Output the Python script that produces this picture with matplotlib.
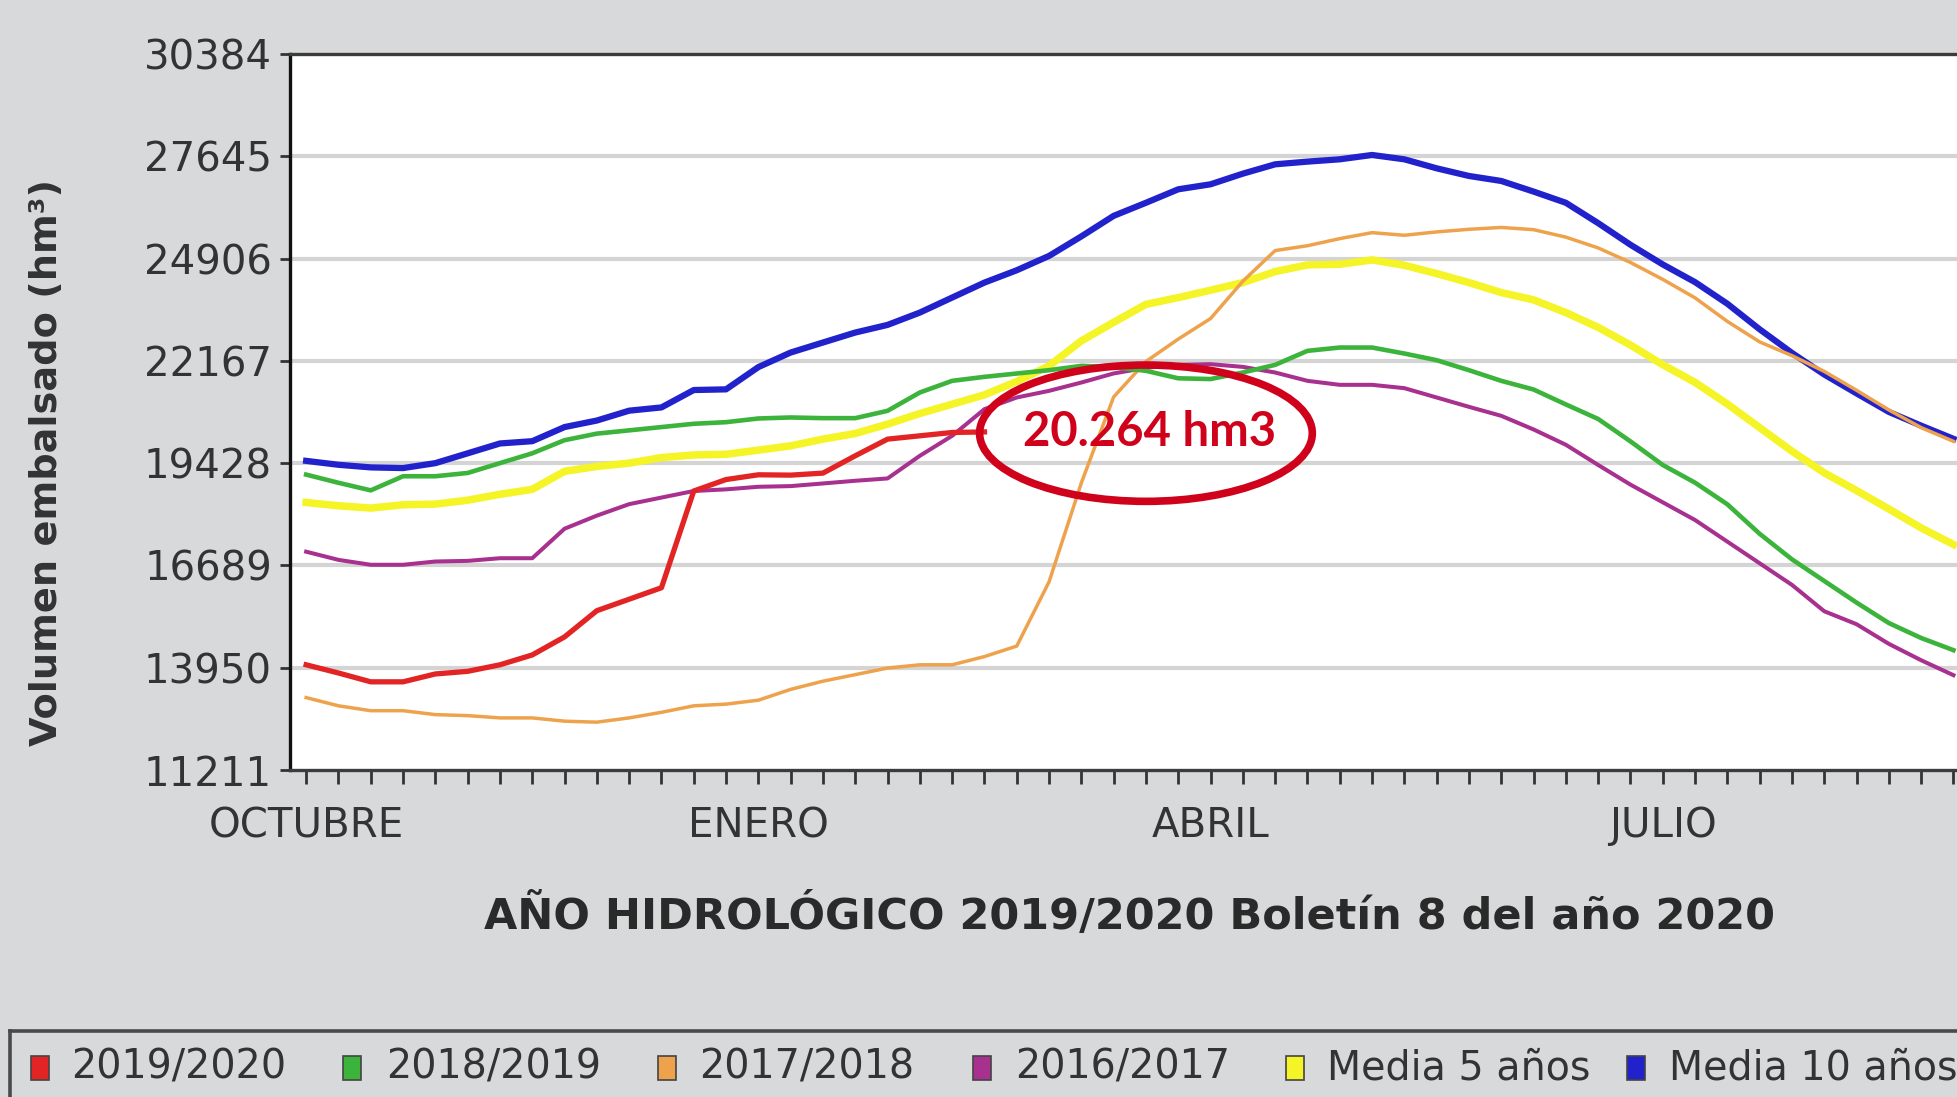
import matplotlib
matplotlib.use("Agg")
import matplotlib.pyplot as plt
from matplotlib.patches import Ellipse, Rectangle
from matplotlib.lines import Line2D

# ---------------- data ----------------
weeks = list(range(52))
y_ticks = [11211, 13950, 16689, 19428, 22167, 24906, 27645, 30384]
month_labels = ["OCTUBRE", "ENERO", "ABRIL", "JULIO"]
month_weeks = [0, 14, 28, 42]

s_2019_2020 = [14028, 13809, 13572, 13572, 13783, 13853, 14028, 14292, 14775, 15477, 15784, 16092,
               18682, 18989, 19116, 19107, 19161, 19625, 20071, 20160, 20249, 20264]
s_2018_2019 = [19121, 18902, 18699, 19077, 19077, 19165, 19428, 19691, 20043, 20218, 20306, 20394,
               20482, 20525, 20624, 20651, 20633, 20633, 20829, 21320, 21632, 21739, 21828, 21917,
               22033, 22000, 21900, 21700, 21680, 21855, 22060, 22435, 22524, 22524, 22363, 22185,
               21917, 21632, 21400, 21000, 20611, 20011, 19379, 18905, 18326, 17536, 16852, 16273,
               15694, 15146, 14746, 14420]
s_2017_2018 = [13150, 12930, 12799, 12799, 12694, 12667, 12606, 12606, 12518, 12492, 12606, 12755,
               12930, 12975, 13080, 13370, 13589, 13765, 13941, 14028, 14028, 14248, 14530, 16250,
               18900, 21200, 22150, 22750, 23300, 24300, 25120, 25250, 25440, 25600, 25530, 25620,
               25690, 25740, 25680, 25480, 25191, 24802, 24349, 23854, 23223, 22675, 22306, 21885,
               21380, 20853, 20379, 20011]
s_2016_2017 = [17057, 16838, 16706, 16706, 16794, 16811, 16882, 16882, 17672, 18023, 18330, 18506,
               18682, 18726, 18795, 18813, 18884, 18956, 19018, 19625, 20160, 20874, 21186, 21364,
               21587, 21830, 21980, 22060, 22078, 22006, 21855, 21632, 21525, 21525, 21436, 21186,
               20936, 20695, 20330, 19920, 19379, 18853, 18379, 17905, 17326, 16747, 16168, 15462,
               15115, 14589, 14150, 13750]
media_5 = [18374, 18287, 18225, 18313, 18331, 18436, 18594, 18726, 19209, 19340, 19428, 19577,
           19647, 19665, 19776, 19892, 20071, 20222, 20472, 20758, 21007, 21257, 21614, 22033,
           22702, 23200, 23680, 23862, 24058, 24263, 24558, 24736, 24754, 24870, 24727, 24504,
           24263, 23996, 23800, 23460, 23064, 22591, 22064, 21590, 21011, 20379, 19748, 19168,
           18694, 18200, 17694, 17250]
media_10 = [19489, 19384, 19314, 19296, 19428, 19691, 19955, 20016, 20394, 20569, 20833, 20920,
            21386, 21404, 22000, 22390, 22658, 22925, 23130, 23460, 23862, 24263, 24593, 24977,
            25500, 26050, 26400, 26761, 26895, 27180, 27430, 27502, 27564, 27680, 27564, 27323,
            27118, 26984, 26700, 26400, 25855, 25276, 24749, 24275, 23696, 23012, 22380, 21801,
            21296, 20800, 20432, 20080]

series_names = ["2019/2020", "2018/2019", "2017/2018", "2016/2017", "Media 5 años", "Media 10 años"]
series_values = [s_2019_2020, s_2018_2019, s_2017_2018, s_2016_2017, media_5, media_10]
series_colors = ["#e32424", "#3cb43c", "#eea24c", "#a8318f", "#f4f426", "#2222cc"]
series_lw = [3.8, 3.3, 2.5, 2.9, 5.4, 4.5]
series_z = [8, 7, 6, 5, 4, 3]

annot_text = "20.264 hm3"
annot_center = (26.0, 20230)

# ---------------- figure ----------------
W, H = 1958, 1097
BG = "#d7d9db"
fig = plt.figure(figsize=(W / 100, H / 100), dpi=100, facecolor=BG)

px = 32.3  # pixels per week
left_px, top_px, bottom_px = 290, 54, 770
x0, x1 = -0.5, 52.0
ax = fig.add_axes([left_px / W, 1 - bottom_px / H, (x1 - x0) * px / W, (bottom_px - top_px) / H])
ax.set_facecolor("white")
ax.set_xlim(x0, x1)
ax.set_ylim(y_ticks[0], y_ticks[-1])

for yv in y_ticks[1:-1]:
    ax.axhline(yv, color="#d4d4d4", lw=3.0, zorder=1)

for name, vals, c, lw, z in zip(series_names, series_values, series_colors, series_lw, series_z):
    ax.plot(weeks[:len(vals)], vals, color=c, lw=lw, zorder=z, solid_joinstyle="round")

# spines
for side in ["top", "left", "bottom"]:
    ax.spines[side].set_linewidth(2.4)
ax.spines["top"].set_color("#3c3c3c")
ax.spines["left"].set_color("#111111")
ax.spines["bottom"].set_color("#3c3c3c")
ax.spines["right"].set_visible(False)

ax.set_yticks(y_ticks)
ax.set_yticklabels([str(v) for v in y_ticks])
ax.set_xticks(weeks)
xt = ["" for _ in weeks]
for lab, wk in zip(month_labels, month_weeks):
    xt[wk] = lab
ax.set_xticklabels(xt)
ax.tick_params(axis="y", direction="out", length=7, width=2, color="#333333",
               labelsize=29, labelcolor="#333333", pad=6)
ax.tick_params(axis="x", direction="out", length=10, width=2, color="#333333",
               labelsize=29, labelcolor="#333333", pad=16)

# annotation
ell = Ellipse(annot_center, 10.3, 3650, fill=False, edgecolor="#d0021b", lw=5.5, zorder=10)
ax.add_patch(ell)
ax.text(annot_center[0] + 0.1, annot_center[1] + 30, annot_text, color="#d0021b", fontsize=34,
        family="Lato", fontweight="bold", ha="center", va="center", zorder=11)

# axis titles
fig.text(47 / W, 1 - 462 / H, "Volumen embalsado (hm³)", rotation=90, ha="center", va="center",
         fontsize=27.5, fontweight="bold", color="#333333")
fig.text(1129 / W, 1 - 916 / H, "AÑO HIDROLÓGICO 2019/2020 Boletín 8 del año 2020",
         ha="center", va="center", fontsize=31, fontweight="bold", color="#2a2a2a")

# legend box
fig.add_artist(Line2D([10 / W, 1.0], [1 - 1031 / H, 1 - 1031 / H], transform=fig.transFigure,
                      color="#4a4a4a", lw=2.6))
fig.add_artist(Line2D([10 / W, 10 / W], [1 - 1031 / H, 0.0], transform=fig.transFigure,
                      color="#4a4a4a", lw=2.6))
marker_x = [31, 343, 658, 973, 1286, 1627]
text_x = [71, 386, 699, 1015, 1327, 1669]
ly = 1068
for name, c, mx, tx in zip(series_names, series_colors, marker_x, text_x):
    fig.add_artist(Rectangle((mx / W, 1 - (ly + 12) / H), 18 / W, 24 / H, transform=fig.transFigure,
                             facecolor=c, edgecolor="#444444", lw=1.2))
    fig.text(tx / W, 1 - ly / H, name, ha="left", va="center", fontsize=28.5, color="#333333")

fig.savefig("out.png", dpi=100, facecolor=BG)
